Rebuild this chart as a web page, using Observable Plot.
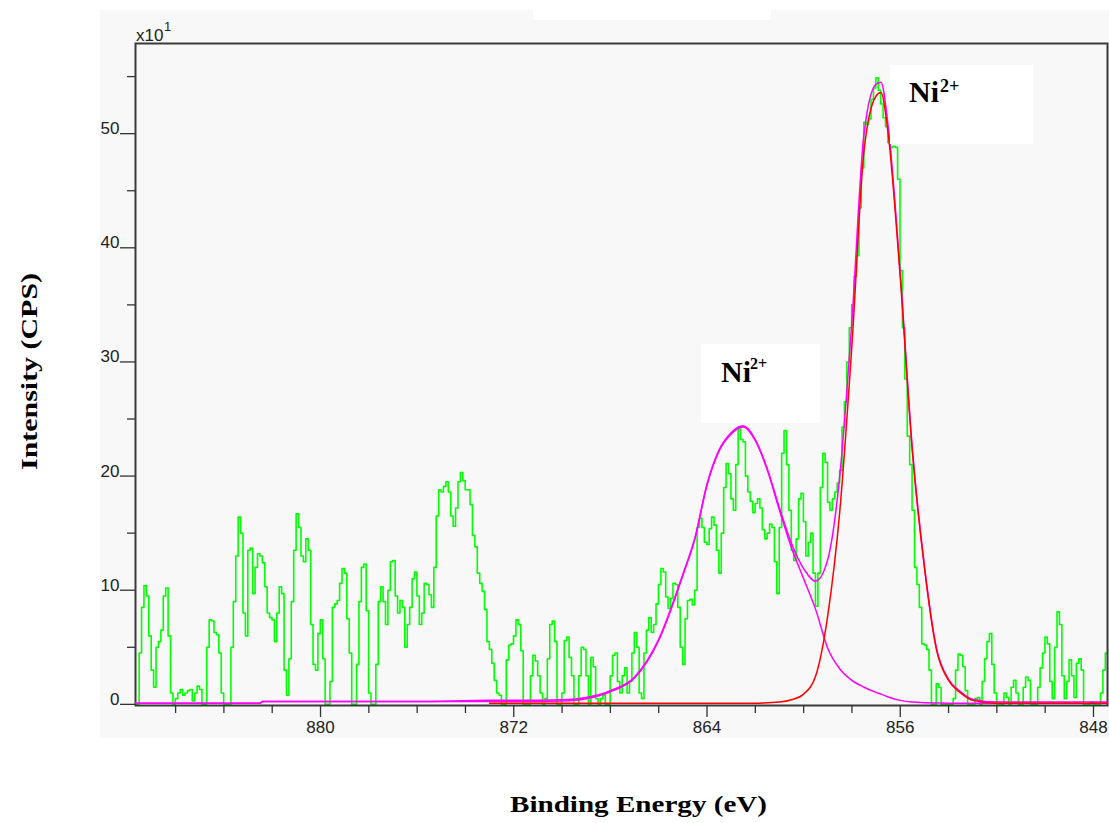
<!DOCTYPE html>
<html>
<head>
<meta charset="utf-8">
<script src="https://cdn.jsdelivr.net/npm/d3@7"></script>
<script src="https://cdn.jsdelivr.net/npm/@observablehq/plot@0.6"></script>
<style>
  html, body { margin: 0; padding: 0; background: #ffffff; }
  #root { position: relative; width: 1109px; height: 823px; overflow: hidden; }
  #panel { position: absolute; left: 100px; top: 10px; width: 1009px; height: 728px; background: #f8f8f8; }
  #patch { position: absolute; left: 533px; top: 0px; width: 238px; height: 20px; background: #ffffff; }
  #chart { position: absolute; left: 0; top: 0; }
  #overlay { position: absolute; left: 0; top: 0; pointer-events: none; }
</style>
</head>
<body>
<div id="root">
  <div id="panel"></div>
  <div id="patch"></div>
  <div id="chart"></div>
  <svg id="overlay" width="1109" height="823" xmlns="http://www.w3.org/2000/svg"></svg>
</div>
<script>
// ---------- data ----------
// Raw spectrum (green), uniform energy step from the first channel
const spectrumStart = 887.66;   // eV
const spectrumStep = 0.1;       // eV per channel (decreasing)
const spectrumCounts = [
  0, 0, 4.5, 8.5, 10.4, 9.5, 6, 3, 1.5, 5,
  5.5, 6.5, 9.5, 10.2, 6, 1, 0, 0.5, 1, 1.3,
  0.8, 1, 1.2, 1.3, 0.3, 1, 1.6, 1.3, 0, 0,
  5, 7.4, 7.3, 6.3, 6.1, 4.5, 1, 0, 0, 0,
  5, 9, 13, 16.4, 15, 8, 6, 13.5, 13.7, 9.7,
  12, 13.2, 13, 12.4, 10.3, 8, 7.6, 7.4, 5.5, 8,
  10.3, 9.7, 3, 0.8, 4, 9, 13.5, 16.7, 15.5, 13,
  12.5, 14.5, 13.5, 7, 3.5, 3, 6.2, 7.4, 4, 0,
  0, 2, 8.5, 8.8, 9.1, 10.6, 11.9, 11.5, 7.5, 4.5,
  0, 0, 3.5, 9, 12, 12.3, 8.2, 1, 0, 0,
  3.5, 9, 10.3, 9, 7, 10, 12.5, 12.6, 9.5, 8,
  9.1, 8.5, 5, 7, 8.5, 11, 11.6, 9.5, 7, 8,
  10.6, 10.5, 9.6, 8.5, 12, 16.5, 18.8, 18.6, 19.1, 19.5,
  18.6, 16.5, 15.6, 17.2, 19.5, 20.3, 19.6, 18.8, 18.8, 17.5,
  14.8, 13.8, 11.5, 10.6, 9.9, 8.3, 5.5, 4.8, 3.6, 2.1,
  1, 0.8, 0, 0, 3.9, 5.2, 5.3, 6, 7.4, 7,
  4.7, 0, 0, 0, 2.5, 4.3, 3.8, 2.5, 1, 0,
  0.5, 4, 7, 7.3, 5.5, 0, 0, 1, 5.6, 5.9,
  4.1, 2.5, 0, 0, 2.5, 5, 4.8, 2.5, 0, 4.1,
  3.3, 0.5, 0, 0.5, 0.8, 0, 0, 2.5, 4.3, 4.5,
  2, 1, 2.5, 3.2, 1, 2, 4.5, 6.3, 5, 1,
  0.5, 4.5, 6.5, 7.6, 6.3, 7, 8.8, 10.5, 11.9, 11.6,
  9.4, 8.4, 9.3, 10.6, 10.5, 8.5, 5, 3.5, 7.5, 9.1,
  9.2, 8.7, 10, 15.5, 16.3, 15.5, 14.2, 14, 15.4, 16.4,
  15.7, 13.5, 11.5, 15, 19, 21.1, 20.2, 18, 17, 21,
  24.3, 23.2, 23, 20, 18.6, 17.8, 16.8, 17.6, 18, 17.2,
  15.3, 14.5, 15, 15.8, 15.5, 12.5, 9.7, 15.5, 22, 24,
  21, 17, 13.5, 12.6, 14.5, 18, 18.5, 16, 13, 14.2,
  15, 11.5, 8.6, 11.5, 19, 22, 21.2, 17.7, 17, 18,
  18.6, 19.4, 20.5, 24.3, 26.5, 30, 33, 35, 37.5, 39.3,
  43.5, 47, 51, 50.8, 51.3, 53, 54, 54.9, 53.8, 52.6,
  51.4, 50.6, 49.2, 48.8, 48.9, 48.8, 46, 38, 33, 28.5,
  23.5, 21, 17, 12, 10.5, 8.5, 5.3, 5.2, 4.8, 3,
  0, 0, 1.8, 1.5, 0, 0, 0, 0, 0, 0.5,
  3, 4.4, 4.3, 3.3, 1.2, 0, 0, 0, 0.5, 0.6,
  0, 2, 4, 5.5, 6.2, 3.5, 1, 0, 0, 0,
  1, 0.6, 0, 1.5, 2.1, 1, 0, 0, 1.5, 2.4,
  2.1, 0, 0, 0, 1.5, 3.2, 4.5, 5.9, 5.3, 2,
  0.5, 5, 8.1, 7, 2.5, 0.5, 2, 3.9, 2.5, 0.6,
  3.6, 4, 3, 0, 0, 0, 0.2, 0, 0, 0,
  1, 3, 4.5
];

// Fitted curves
const fitEnergy = [887.66, 882.5, 882.4, 876, 873, 872, 870, 869, 868, 867, 866, 865, 864.5, 864, 863.5, 863, 862.5, 862, 861.5, 861, 860.5, 860, 859.5, 859, 858.5, 858, 857.5, 857, 856.8, 856.5, 856, 855.5, 855, 854.5, 854, 853.5, 853, 852, 851, 850, 849, 847.42];
const satelliteFit = [0.1, 0.1, 0.25, 0.25, 0.25, 0.25, 0.3, 0.5, 1.1, 2.3, 5.6, 11.3, 14.5, 19.2, 22.2, 23.7, 24.3, 23.1, 20.5, 17, 13.7, 11, 8.3, 4.9, 3.1, 2.1, 1.5, 1.05, 0.9, 0.65, 0.35, 0.2, 0.15, 0.12, 0.1, 0.1, 0.1, 0.1, 0.1, 0.1, 0.1, 0.1];
const mainFit = [null, null, null, null, 0.1, 0.1, 0.1, 0.1, 0.1, 0.1, 0.1, 0.1, 0.1, 0.1, 0.1, 0.1, 0.1, 0.1, 0.15, 0.2, 0.4, 0.9, 2.5, 7.8, 17, 31.5, 48.5, 53.3, 53.6, 50, 37.4, 22.2, 12, 4.8, 2.1, 1, 0.35, 0.1, 0.1, 0.1, 0.1, 0.1];
const envelopeFit = [0.1, 0.1, 0.25, 0.25, 0.35, 0.35, 0.4, 0.6, 1.2, 2.4, 5.7, 11.4, 14.6, 19.3, 22.3, 23.8, 24.4, 23.2, 20.6, 17.2, 14.1, 11.9, 10.8, 12.7, 20.1, 33.6, 50, 54.35, 54.5, 50.65, 37.75, 22.4, 12.15, 4.9, 2.2, 1.1, 0.45, 0.2, 0.2, 0.2, 0.2, 0.2];

// Axes
const xMajorTicks = [880, 872, 864, 856, 848];
const xMinorTicks = [886, 884, 882, 878, 876, 874, 870, 868, 866, 862, 860, 858, 854, 852, 850];
const yMajorTicks = [0, 10, 20, 30, 40, 50];
const yMinorTicks = [5, 15, 25, 35, 45, 55];
const xDomain = [887.66, 847.42];
const yDomain = [-0.1, 57.9];

const axisTitleX = "Binding Energy (eV)";
const axisTitleY = "Intensity (CPS)";
const scaleNote = "x10";
const scaleExp = "1";
const peakLabel = "Ni";
const peakCharge = "2+";

// ---------- build rows ----------
const spectrum = spectrumCounts.map((v, i) => ({e: spectrumStart - i * spectrumStep, v}));
const satRows = fitEnergy.map((e, i) => ({e, v: satelliteFit[i]}));
const envRows = fitEnergy.map((e, i) => ({e, v: envelopeFit[i]}));
const mainRows = fitEnergy.map((e, i) => ({e, v: mainFit[i]})).filter(d => d.v != null);

const tickFont = "Liberation Sans, Arial, sans-serif";

const chart = Plot.plot({
  width: 1109,
  height: 823,
  marginLeft: 135,
  marginRight: 2,
  marginTop: 43,
  marginBottom: 118,
  style: {background: "transparent", overflow: "visible"},
  x: {domain: xDomain, label: null},
  y: {domain: yDomain, label: null},
  marks: [
    Plot.line(spectrum, {x: "e", y: "v", stroke: "#00ff00", strokeWidth: 1.6, curve: "step"}),
    Plot.frame({stroke: "#3a3a3a", strokeWidth: 2}),
    Plot.line(satRows, {x: "e", y: "v", stroke: "#ff00ff", strokeWidth: 1.5, curve: "monotone-x"}),
    Plot.line(envRows, {x: "e", y: "v", stroke: "#ff00ff", strokeWidth: 1.5, curve: "monotone-x"}),
    Plot.line(mainRows, {x: "e", y: "v", stroke: "#ff0000", strokeWidth: 1.5, curve: "monotone-x"}),
    Plot.axisY(yMajorTicks, {tickSize: 15, tickFormat: () => "", stroke: "#333", strokeWidth: 1.3}),
    Plot.axisY(yMinorTicks, {tickSize: 8, tickFormat: () => "", stroke: "#333", strokeWidth: 1.3}),
    Plot.axisX(xMajorTicks, {tickSize: 12, tickFormat: () => "", stroke: "#333", strokeWidth: 1.3}),
    Plot.axisX(xMinorTicks, {tickSize: 8, tickFormat: () => "", stroke: "#333", strokeWidth: 1.3}),
    Plot.text(yMajorTicks, {x: () => xDomain[0], y: d => d, text: d => String(d), textAnchor: "end", dx: -16, dy: -5, fontSize: 17, fontFamily: tickFont, fill: "#222"}),
    Plot.text(xMajorTicks, {x: d => d, y: () => yDomain[0], text: d => String(d), textAnchor: "middle", dy: 22, fontSize: 17, fontFamily: tickFont, fill: "#222"})
  ]
});
document.getElementById("chart").appendChild(chart);

// ---------- overlay: annotations and titles ----------
const ns = "http://www.w3.org/2000/svg";
const ov = document.getElementById("overlay");
function el(tag, attrs, text) {
  const n = document.createElementNS(ns, tag);
  for (const k in attrs) n.setAttribute(k, attrs[k]);
  if (text != null) n.textContent = text;
  ov.appendChild(n);
  return n;
}
const serif = "Liberation Serif, Times New Roman, serif";

// scale note x10^1
el("text", {x: 136, y: 41, "font-family": tickFont, "font-size": 17, fill: "#222"}, scaleNote);
el("text", {x: 164, y: 31, "font-family": tickFont, "font-size": 13, fill: "#222"}, scaleExp);

// annotation boxes
el("rect", {x: 701, y: 344, width: 119, height: 79, fill: "#ffffff"});
el("text", {x: 721, y: 382, "font-family": serif, "font-size": 30, "font-weight": "bold", fill: "#000"}, peakLabel);
el("text", {x: 750, y: 369, "font-family": serif, "font-size": 16, "font-weight": "bold", fill: "#000"}, peakCharge);

el("rect", {x: 890, y: 65, width: 143, height: 79, fill: "#ffffff"});
el("text", {x: 909, y: 102, "font-family": serif, "font-size": 30, "font-weight": "bold", fill: "#000"}, peakLabel);
el("text", {x: 940, y: 92, "font-family": serif, "font-size": 18, "font-weight": "bold", fill: "#000"}, peakCharge);

// axis titles
el("text", {x: 638.5, y: 812, "text-anchor": "middle", "font-family": serif, "font-size": 24, "font-weight": "bold", fill: "#000", textLength: 257, lengthAdjust: "spacingAndGlyphs"}, axisTitleX);
el("text", {x: 0, y: 0, transform: "translate(37,371.5) rotate(-90)", "text-anchor": "middle", "font-family": serif, "font-size": 24, "font-weight": "bold", fill: "#000", textLength: 197, lengthAdjust: "spacingAndGlyphs"}, axisTitleY);
</script>
</body>
</html>
